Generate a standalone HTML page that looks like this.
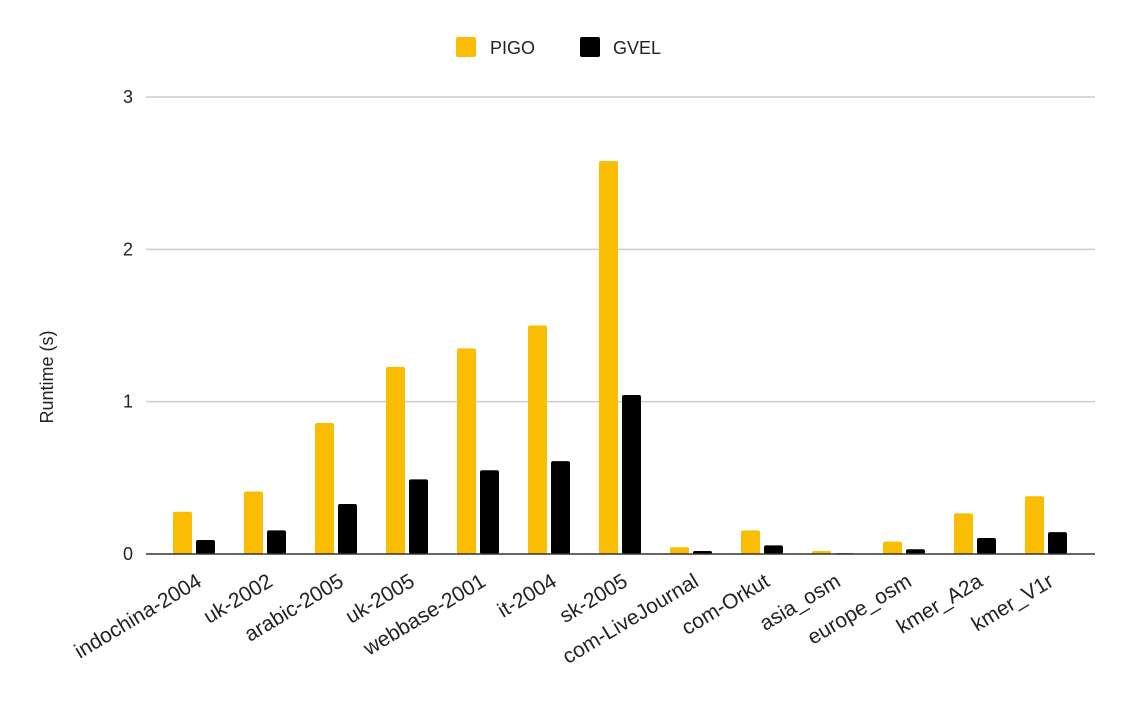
<!DOCTYPE html>
<html><head><meta charset="utf-8"><style>
body{margin:0;background:#fff;font-family:"Liberation Sans",Arial,sans-serif}
svg text{font-family:"Liberation Sans",Arial,sans-serif}
</style></head><body>
<svg id="chart" width="1129" height="698">
<g>
<rect x="456" y="37" width="20" height="20" rx="2" fill="#fbbc04"/>
<text x="490" y="54" font-size="18" fill="#222">PIGO</text>
<rect x="580" y="37" width="20" height="20" rx="2" fill="#000"/>
<text x="613" y="54" font-size="18" fill="#222">GVEL</text>
</g>
<text transform="translate(53,377) rotate(-90)" text-anchor="middle" font-size="18" fill="#222">Runtime (s)</text>
<g id="grid"></g><g id="bars"></g><g id="labels"></g>
</svg>
<script>
const categories=["indochina-2004","uk-2002","arabic-2005","uk-2005","webbase-2001","it-2004","sk-2005","com-LiveJournal","com-Orkut","asia_osm","europe_osm","kmer_A2a","kmer_V1r"];
const pigo=[0.277,0.41,0.86,1.228,1.35,1.50,2.58,0.044,0.155,0.02,0.081,0.267,0.379];
const gvel=[0.092,0.155,0.328,0.49,0.55,0.61,1.044,0.02,0.057,0.005,0.031,0.105,0.144];
const yTicks=[0,1,2,3];
const NS="http://www.w3.org/2000/svg";
const x0=146,x1=1095,yZero=554,yTop=97,yMax=3;
const y=v=>yZero-(yZero-yTop)*v/yMax;
const cx=i=>194+71*i;
function mk(tag,attrs,parent){const e=document.createElementNS(NS,tag);for(const k in attrs)e.setAttribute(k,attrs[k]);parent.appendChild(e);return e;}
const grid=document.getElementById('grid'),bars=document.getElementById('bars'),labels=document.getElementById('labels');
yTicks.forEach(t=>{
 if(t>0){const l=mk('line',{x1:x0,x2:x1,y1:y(t),y2:y(t),stroke:'#ccc','stroke-width':1.5},grid);
 
 }
 const tx=mk('text',{x:133,y:y(t)+6,'text-anchor':'end','font-size':18,fill:'#222'},grid);
 tx.textContent=t;
 
 
});
categories.forEach((c,i)=>{
 const b1=mk('rect',{x:cx(i)-21,y:y(pigo[i]),width:19,height:Math.max(0,yZero-y(pigo[i])),rx:2,fill:'#fbbc04'},bars);
 
 
 const b2=mk('rect',{x:cx(i)+2,y:y(gvel[i]),width:19,height:Math.max(0,yZero-y(gvel[i])),rx:2,fill:'#000'},bars);
 
 
 const t=mk('text',{transform:`translate(${cx(i)+9},${585}) rotate(-31)`,'text-anchor':'end','font-size':21,fill:'#222'},labels);
 t.textContent=c;
 
 
});
const ax=mk('line',{x1:x0,x2:x1,y1:yZero,y2:yZero,stroke:'#333','stroke-width':1.5},grid.parentNode);


</script>
</body></html>
